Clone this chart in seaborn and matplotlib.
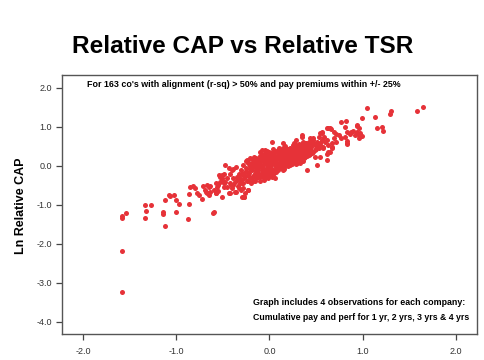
import matplotlib
matplotlib.use("Agg")
import matplotlib.pyplot as plt
import seaborn as sns
import pandas as pd

# ---------------- data (Ln relative TSR, Ln relative CAP) ----------------
left_tail = [
    (-1.59, -1.29), (-1.59, -1.35), (-1.54, -1.21), (-1.59, -2.18), (-1.59, -3.24),
    (-1.34, -1.00), (-1.27, -1.00), (-1.33, -1.15), (-1.34, -1.34),
    (-1.12, -0.87), (-1.14, -1.20), (-1.14, -1.25), (-1.12, -1.54),
    (-1.08, -0.74), (-1.07, -0.78), (-1.03, -0.75), (-1.01, -0.88), (-0.97, -0.98),
    (-1.01, -1.20), (-0.88, -1.36), (-0.86, -0.98), (-0.87, -0.73),
    (-0.85, -0.54), (-0.82, -0.52), (-0.80, -0.58), (-0.78, -0.71), (-0.76, -0.75),
    (-0.73, -0.85), (-0.71, -0.52), (-0.67, -0.50), (-0.65, -0.54), (-0.69, -0.63),
    (-0.67, -0.71), (-0.65, -0.75), (-0.64, -0.52), (-0.68, -0.67), (-0.64, -0.67),
    (-0.60, -1.18), (-0.61, -1.22), (-0.58, -0.69), (-0.55, -0.64),
    (-0.60, -0.62), (-0.58, -0.71), (-0.56, -0.54), (-0.58, -0.45),
]
lower_band = [
    (-0.55, -0.50), (-0.53, -0.41), (-0.51, -0.32), (-0.54, -0.24), (-0.51, -0.80),
    (-0.53, -0.28), (-0.51, -0.24), (-0.49, -0.20), (-0.51, -0.37), (-0.48, -0.41),
    (-0.46, -0.32), (-0.49, -0.54), (-0.42, -0.20), (-0.48, 0.02), (-0.44, -0.07),
    (-0.40, -0.11), (-0.49, -0.45), (-0.46, -0.54), (-0.44, -0.69), (-0.42, -0.71),
    (-0.40, -0.58), (-0.41, -0.50), (-0.42, -0.45), (-0.39, -0.50), (-0.37, -0.41),
    (-0.35, -0.28), (-0.33, -0.20), (-0.31, -0.37), (-0.30, -0.45), (-0.37, -0.67),
    (-0.33, -0.58), (-0.30, -0.80), (-0.26, -0.71), (-0.28, 0.02), (-0.24, 0.15),
    (-0.23, 0.06), (-0.39, -0.32), (-0.35, -0.37), (-0.32, -0.45), (-0.28, -0.45),
    (-0.29, -0.24), (-0.26, -0.15), (-0.31, -0.11), (-0.27, -0.80), (-0.23, -0.63),
    (-0.36, -0.67), (-0.39, -0.09), (-0.36, -0.02), (-0.33, -0.30), (-0.30, -0.20),
    (-0.28, -0.58), (-0.34, -0.52), (-0.31, -0.62), (-0.27, -0.32),
]
core = [
    (-0.26, -0.30), (-0.25, -0.05), (-0.24, -0.40), (-0.23, 0.10), (-0.22, -0.18),
    (-0.21, -0.32), (-0.20, 0.02), (-0.20, -0.45), (-0.19, -0.10), (-0.18, 0.15),
    (-0.17, -0.25), (-0.16, -0.38), (-0.16, 0.05), (-0.15, -0.15), (-0.14, 0.20),
    (-0.13, -0.05), (-0.12, -0.30), (-0.12, 0.10), (-0.11, -0.20), (-0.10, 0.25),
    (-0.10, -0.40), (-0.09, 0.00), (-0.08, -0.12), (-0.08, 0.15), (-0.07, -0.28),
    (-0.06, 0.30), (-0.06, 0.05), (-0.05, -0.20), (-0.04, 0.18), (-0.04, -0.08),
    (-0.03, 0.38), (-0.02, -0.32), (-0.02, 0.08), (-0.01, -0.15), (0.00, 0.22),
    (0.00, 0.00), (0.01, -0.25), (0.02, 0.32), (0.02, 0.12), (0.03, -0.08),
    (0.04, 0.42), (0.05, 0.05), (0.05, -0.18), (0.06, 0.25), (0.07, -0.02),
    (0.07, 0.15), (0.08, 0.35), (0.09, -0.12), (0.10, 0.08), (0.10, 0.45),
    (0.11, 0.22), (0.12, -0.05), (0.13, 0.30), (0.13, 0.12), (0.14, 0.02),
    (0.15, 0.40), (0.16, 0.18), (0.16, -0.08), (0.17, 0.50), (0.18, 0.28),
    (0.18, 0.08), (0.19, 0.36), (0.20, 0.00), (0.21, 0.22), (0.22, 0.45),
    (0.22, 0.12), (0.23, 0.32), (0.24, 0.05), (0.25, 0.52), (0.25, 0.20),
    (0.26, 0.38), (0.27, 0.12), (0.28, 0.28), (0.29, 0.46), (0.30, 0.18),
    (0.30, 0.08), (0.31, 0.36), (0.32, 0.55), (0.33, 0.25), (0.34, 0.14),
    (0.35, 0.42), (0.36, 0.30), (0.36, 0.60), (0.37, 0.20), (0.38, 0.48),
    (0.39, 0.35), (0.40, 0.25), (0.41, 0.55), (0.42, 0.40), (0.43, 0.30),
    (0.44, 0.62), (0.45, 0.48), (0.46, 0.36), (0.47, 0.70), (0.48, 0.55),
    (0.50, 0.42),
    (-0.25, 0.12), (-0.24, -0.15), (-0.22, -0.38), (-0.21, 0.00), (-0.19, -0.28),
    (-0.18, -0.02), (-0.17, 0.10), (-0.15, -0.32), (-0.14, -0.10), (-0.13, 0.08),
    (-0.11, -0.02), (-0.11, 0.18), (-0.09, -0.25), (-0.09, 0.12), (-0.07, -0.05),
    (-0.07, 0.22), (-0.05, -0.30), (-0.05, 0.10), (-0.03, -0.18), (-0.03, 0.02),
    (-0.01, 0.30), (-0.01, 0.12), (0.01, -0.05), (0.01, 0.18), (0.03, 0.25),
    (0.03, -0.30), (0.04, 0.08), (0.06, -0.10), (0.06, 0.38), (0.08, 0.20),
    (0.08, -0.05), (0.09, 0.28), (0.11, 0.00), (0.11, 0.38), (0.12, 0.15),
    (0.14, 0.25), (0.14, -0.10), (0.15, 0.08), (0.17, 0.32), (0.17, 0.00),
    (0.19, 0.15), (0.20, 0.42), (0.21, 0.06), (0.23, 0.25), (0.24, 0.40),
    (0.26, 0.10), (0.27, 0.30), (0.28, 0.48), (0.29, 0.20), (0.31, 0.26),
    (0.32, 0.42), (0.33, 0.08), (0.34, 0.34), (0.35, 0.52), (0.37, 0.38),
    (0.38, 0.22), (0.39, 0.58), (0.40, 0.45), (0.42, 0.28), (0.43, 0.52),
    (0.45, 0.32), (0.46, 0.58),
    (-0.23, -0.25), (-0.21, -0.08), (-0.19, 0.08), (-0.18, -0.40), (-0.16, -0.20),
    (-0.15, 0.00), (-0.13, -0.22), (-0.12, -0.12), (-0.10, 0.05), (-0.10, -0.30),
    (-0.08, -0.18), (-0.08, 0.28), (-0.06, -0.12), (-0.06, 0.15), (-0.04, -0.25),
    (-0.04, 0.28), (-0.02, 0.20), (-0.02, -0.02), (0.00, -0.10), (0.00, 0.35),
    (0.02, 0.02), (0.02, -0.18), (0.04, 0.18), (0.04, 0.32), (0.06, 0.10),
    (0.07, -0.15), (0.09, 0.05), (0.09, 0.40), (0.10, 0.18), (0.12, 0.35),
    (0.12, 0.05), (0.14, 0.45), (0.15, 0.22), (0.16, 0.30), (0.18, 0.18),
    (0.18, 0.42), (0.20, 0.10), (0.20, 0.30), (0.22, 0.38), (0.22, 0.02),
    (0.24, 0.15), (0.24, 0.30), (0.26, 0.46), (0.26, 0.22), (0.28, 0.38),
    (0.28, 0.05), (0.30, 0.30), (0.30, 0.50), (0.32, 0.18), (0.33, 0.35),
    (0.34, 0.48), (0.36, 0.22), (0.37, 0.55), (0.38, 0.30), (0.40, 0.38),
    (0.41, 0.48), (0.43, 0.42), (0.44, 0.55), (0.36, 0.12), (0.27, 0.55),
]
core_outliers = [
    (0.03, 0.62), (0.15, 0.58), (-0.05, 0.40), (-0.08, 0.40), (-0.10, 0.36),
    (-0.21, 0.19), (-0.17, 0.23), (-0.15, 0.15), (-0.27, -0.80), (-0.23, -0.63),
    (-0.06, -0.37), (-0.05, -0.30), (0.04, -0.20), (0.06, -0.32), (0.09, -0.06),
    (0.40, -0.11), (0.37, 0.23), (0.51, 0.02),
]
upper_band = [
    (0.35, 0.75), (0.35, 0.79), (0.44, 0.72), (0.47, 0.66), (0.42, 0.62),
    (0.44, 0.62), (0.53, 0.75), (0.59, 0.75), (0.62, 0.66), (0.54, 0.83),
    (0.56, 0.86), (0.56, 0.83), (0.63, 0.96), (0.62, 0.96), (0.66, 0.94),
    (0.65, 0.96), (0.69, 0.87), (0.69, 0.72), (0.71, 0.81), (0.75, 0.79),
    (0.77, 0.70), (0.77, 1.13), (0.82, 1.14), (0.81, 1.00), (0.83, 0.87),
    (0.81, 0.75), (0.83, 0.55), (0.83, 0.58), (0.83, 0.64), (0.94, 1.02),
    (0.94, 1.05), (0.96, 0.96), (0.90, 0.89), (0.88, 0.87), (0.87, 0.82),
    (0.94, 0.86), (0.92, 0.79), (0.97, 0.83), (0.99, 0.76), (0.96, 0.79),
    (0.96, 0.70), (0.99, 1.22),
    (0.67, 0.58), (0.63, 0.53), (0.67, 0.45), (0.54, 0.58), (0.58, 0.49),
    (0.53, 0.45), (0.49, 0.53), (0.63, 0.36), (0.62, 0.29), (0.65, 0.36),
    (0.67, 0.47), (0.44, 0.45), (0.47, 0.36), (0.40, 0.32), (0.37, 0.40),
    (0.62, 0.15), (0.54, 0.23), (0.49, 0.23), (0.26, 0.58), (0.29, 0.66),
    (0.33, 0.49), (0.38, 0.58), (0.42, 0.49), (0.47, 0.58), (0.51, 0.62),
    (0.49, 0.40), (0.54, 0.53), (0.58, 0.45), (0.46, 0.32), (0.37, 0.32),
    (0.29, 0.36), (0.51, 0.50), (0.56, 0.66), (0.60, 0.60), (0.72, 0.62),
]
right_tail = [
    (1.05, 1.48), (1.31, 1.41), (1.30, 1.32), (1.59, 1.41), (1.65, 1.50),
    (1.13, 1.24), (1.21, 0.99), (1.22, 0.90), (1.15, 0.98),
]

groups = [left_tail, lower_band, core, core_outliers, upper_band, right_tail]
points = [p for g in groups for p in g]
df = pd.DataFrame(points, columns=["tsr", "cap"])

title_text = "Relative CAP vs Relative TSR"
y_label = "Ln Relative CAP"
note_top = "For 163 co's with alignment (r-sq) > 50% and pay premiums within +/- 25%"
note_bottom_1 = "Graph includes 4 observations for each company:"
note_bottom_2 = "Cumulative pay and perf for 1 yr, 2 yrs, 3 yrs & 4 yrs"
x_ticks = [-2.0, -1.0, 0.0, 1.0, 2.0]
y_ticks = [2.0, 1.0, 0.0, -1.0, -2.0, -3.0, -4.0]

# ---------------- style ----------------
sns.set_theme(style="white")
plt.rcParams["font.family"] = ["Liberation Sans", "DejaVu Sans"]
plt.rcParams["axes.unicode_minus"] = False

fig = plt.figure(figsize=(4.85, 3.6), dpi=100)
fig.patch.set_facecolor("white")
ax = fig.add_axes([62 / 485, 1 - 334 / 360, (477 - 62) / 485, (334 - 75) / 360])

sns.scatterplot(data=df, x="tsr", y="cap", ax=ax, color="#E63238",
                s=13, linewidth=0, alpha=1.0, legend=False)

ax.set_xlim(-2.23, 2.23)
ax.set_ylim(-4.32, 2.33)
ax.set_xticks(x_ticks)
ax.set_yticks(y_ticks)
ax.set_xticklabels([f"{v:.1f}" for v in x_ticks])
ax.set_yticklabels([f"{v:.1f}" for v in y_ticks])
ax.tick_params(axis="both", which="major", direction="out", length=4,
               width=0.9, color="#444444", labelsize=6.5, labelcolor="#333333")
ax.tick_params(axis="x", pad=5)
ax.tick_params(axis="y", pad=3)
ax.xaxis.set_ticks_position("bottom")
ax.yaxis.set_ticks_position("left")
for sp in ax.spines.values():
    sp.set_color("#555555")
    sp.set_linewidth(1.0)
ax.set_xlabel("")
ax.set_ylabel("")

fig.text(243 / 485, 1 - 52.7 / 360, title_text, ha="center", va="baseline",
         fontsize=17.6, fontweight="bold", color="black")
fig.text(21.5 / 485, 1 - 205.5 / 360, y_label, rotation=90, ha="center",
         va="center", fontsize=9, fontweight="bold", color="black")
fig.text(87 / 485, 1 - 86.7 / 360, note_top, ha="left", va="baseline",
         fontsize=6.4, fontweight="bold", color="black")
fig.text(253 / 485, 1 - 305 / 360, note_bottom_1, ha="left", va="baseline",
         fontsize=6.4, fontweight="bold", color="black")
fig.text(253 / 485, 1 - 320 / 360, note_bottom_2, ha="left", va="baseline",
         fontsize=6.3, fontweight="bold", color="black")

fig.savefig("out.png", dpi=100, facecolor="white")
